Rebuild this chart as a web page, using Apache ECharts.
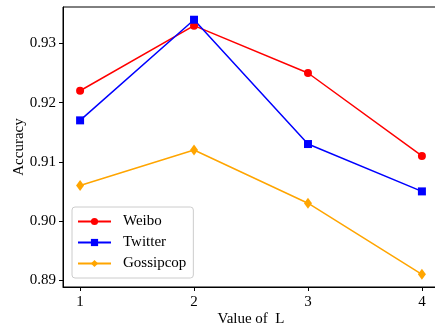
<!DOCTYPE html>
<html>
<head>
<meta charset="utf-8">
<script src="https://cdn.jsdelivr.net/npm/echarts@6/dist/echarts.min.js"></script>
<style>
  html, body { margin: 0; padding: 0; background: #fff; }
  #chart { width: 435px; height: 331px; }
</style>
</head>
<body>
<div id="chart"></div>
<script>
// values of L on the x axis
const lValues = [1, 2, 3, 4];
const weibo = [0.922, 0.933, 0.925, 0.911];
const twitter = [0.917, 0.934, 0.913, 0.905];
const gossipcop = [0.906, 0.912, 0.903, 0.891];
const yTicks = [0.89, 0.90, 0.91, 0.92, 0.93];

const font = '"Liberation Serif", "DejaVu Serif", serif';

function pairs(arr) {
  return arr.map((v, i) => [lValues[i], v]);
}

let chart = echarts.init(document.getElementById('chart'));
chart.setOption({
  animation: false,
  grid: {
    left: 63,
    top: 7,
    width: 376,
    height: 280,
    outerBoundsMode: 'none',
    containLabel: false,
    show: true,
    borderColor: '#000',
    borderWidth: 1,
    backgroundColor: 'transparent'
  },
  legend: {
    left: 72,
    top: 207,
    orient: 'vertical',
    itemWidth: 33,
    itemHeight: 9,
    itemGap: 6,
    padding: [7, 7, 7, 5],
    borderColor: '#ccc',
    borderWidth: 1,
    borderRadius: 3,
    backgroundColor: 'rgba(255,255,255,0.8)',
    textStyle: {
      fontFamily: font,
      fontSize: 15,
      color: '#000',
      padding: [0, 0, 0, 7]
    },
    data: ['Weibo', 'Twitter', 'Gossipcop']
  },
  xAxis: {
    type: 'value',
    min: 0.85,
    max: 4.15,
    name: 'Value of  L',
    nameLocation: 'middle',
    nameGap: 25,
    nameMoveOverlap: false,
    nameTextStyle: { fontFamily: font, fontSize: 15, color: '#000' },
    axisLine: { lineStyle: { color: '#000', width: 1 } },
    axisTick: { show: true, length: 4, customValues: lValues, lineStyle: { color: '#000' } },
    axisLabel: {
      customValues: lValues,
      fontFamily: font,
      fontSize: 15,
      color: '#000',
      margin: 8
    },
    splitLine: { show: false }
  },
  yAxis: {
    type: 'value',
    min: 0.88885,
    max: 0.93615,
    name: 'Accuracy',
    nameLocation: 'middle',
    nameGap: 36,
    nameMoveOverlap: false,
    nameRotate: 90,
    nameTextStyle: { fontFamily: font, fontSize: 15, color: '#000' },
    axisLine: { show: true, lineStyle: { color: '#000', width: 1 } },
    axisTick: { show: true, length: 4, customValues: yTicks, lineStyle: { color: '#000' } },
    axisLabel: {
      customValues: yTicks,
      fontFamily: font,
      fontSize: 15,
      color: '#000',
      margin: 7,
      formatter: v => v.toFixed(2)
    },
    splitLine: { show: false }
  },
  series: [
    {
      name: 'Weibo',
      type: 'line',
      data: pairs(weibo),
      symbol: 'circle',
      symbolSize: 8,
      color: '#ff0000',
      lineStyle: { width: 1.5 }
    },
    {
      name: 'Twitter',
      type: 'line',
      data: pairs(twitter),
      symbol: 'rect',
      symbolSize: 8,
      color: '#0000ff',
      lineStyle: { width: 1.5 }
    },
    {
      name: 'Gossipcop',
      type: 'line',
      data: pairs(gossipcop),
      symbol: 'diamond',
      symbolSize: [8, 11],
      color: '#ffa500',
      lineStyle: { width: 1.5 }
    }
  ]
});
</script>
</body>
</html>
